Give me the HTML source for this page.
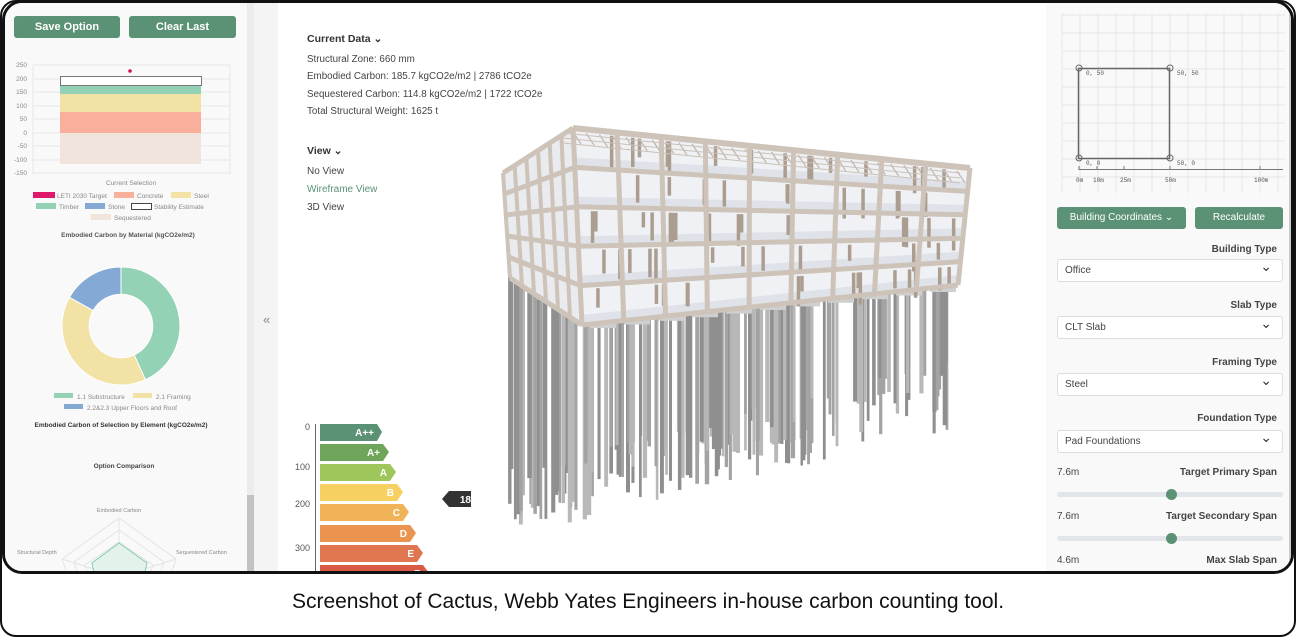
<!DOCTYPE html>
<html><head><meta charset="utf-8"><style>
*{margin:0;padding:0;box-sizing:border-box}
body{width:1296px;height:637px;background:#fff;position:relative;overflow:hidden;font-family:"Liberation Sans",sans-serif;color:#333}
.outer{position:absolute;left:0;top:0;width:1296px;height:637px;border:2px solid #111;border-radius:16px}
.shot{position:absolute;left:2px;top:0;width:1292px;height:574px;border:3px solid #111;border-radius:20px;overflow:hidden;background:#fff}
.a{position:absolute;white-space:nowrap}
.btn{position:absolute;background:#5b9174;color:#fff;border-radius:3px;font-size:11px;text-align:center;line-height:22px;font-weight:bold}
.sel{position:absolute;left:1052px;width:226px;height:23px;background:#fff;border:1px solid #ddd;border-radius:3px;font-size:10px;line-height:21px;padding-left:7px;color:#444}
.sel:after{content:"⌄";position:absolute;right:10px;top:-4px;font-size:14px;color:#333}
.lab{position:absolute;right:14px;font-size:10px;font-weight:bold;color:#444}
.cap{position:absolute;left:0;width:1296px;top:590px;text-align:center;font-size:21px;color:#111}
</style></head><body>
<div class="outer"></div>
<div class="shot">
 <div class="a" style="left:0;top:0;width:247px;height:574px;background:#f9f9f9"></div>
 <div class="a" style="left:242px;top:0;width:7px;height:574px;background:#ececec"></div>
 <div class="a" style="left:242px;top:492px;width:7px;height:82px;background:#c2c2c2"></div>
 <div class="a" style="left:249px;top:0;width:24px;height:574px;background:#f4f4f4"></div>
 <div class="a" style="left:258px;top:309px;font-size:13px;color:#888">«</div>
 <div class="a" style="left:1041px;top:0;width:251px;height:574px;background:#f9f9f9"></div>
 <div class="a" style="left:1284px;top:0;width:6px;height:574px;background:#ccc"></div>

 <div class="btn" style="left:9px;top:13px;width:106px;height:22px">Save Option</div>
 <div class="btn" style="left:124px;top:13px;width:107px;height:22px">Clear Last</div>

 <svg class="a" style="left:0;top:0" width="250" height="574">
  <g font-family="Liberation Sans" font-size="6.5" fill="#888" text-anchor="end">
   <text x="22" y="64">250</text><text x="22" y="78">200</text><text x="22" y="91">150</text><text x="22" y="105">100</text><text x="22" y="118">50</text><text x="22" y="132">0</text><text x="22" y="145">-50</text><text x="22" y="159">-100</text><text x="22" y="172">-150</text>
  </g>
  <g stroke="#e8e8e8"><line x1="28" x2="225" y1="62" y2="62"/><line x1="28" x2="225" y1="76" y2="76"/><line x1="28" x2="225" y1="89" y2="89"/><line x1="28" x2="225" y1="103" y2="103"/><line x1="28" x2="225" y1="116" y2="116"/><line x1="28" x2="225" y1="130" y2="130"/><line x1="28" x2="225" y1="143" y2="143"/><line x1="28" x2="225" y1="157" y2="157"/><line x1="28" x2="225" y1="170" y2="170"/><line x1="28" x2="28" y1="62" y2="172"/><line x1="225" x2="225" y1="62" y2="172"/></g>
  <rect x="55" y="83" width="141" height="8" fill="#94d2b6"/>
  <rect x="55" y="91" width="141" height="18" fill="#f3e2a5"/>
  <rect x="55" y="109" width="141" height="21" fill="#f8b09c"/>
  <rect x="55" y="130" width="141" height="31" fill="#f1e4dc"/>
  <rect x="55.5" y="73.5" width="141" height="9" fill="#fff" stroke="#777"/>
  <circle cx="125" cy="68" r="1.8" fill="#d0105f"/>
  <g font-family="Liberation Sans" font-size="6.5" fill="#888">
   <text x="126" y="182" text-anchor="middle">Current Selection</text>
   <rect x="28" y="189" width="22" height="6" fill="#e0186a"/><text x="52" y="195">LETI 2030 Target</text>
   <rect x="109" y="189" width="20" height="6" fill="#f8b09c"/><text x="132" y="195">Concrete</text>
   <rect x="166" y="189" width="20" height="6" fill="#f3e2a5"/><text x="189" y="195">Steel</text>
   <rect x="31" y="200" width="20" height="6" fill="#94d2b6"/><text x="54" y="206">Timber</text>
   <rect x="80" y="200" width="20" height="6" fill="#84a9d4"/><text x="103" y="206">Stone</text>
   <rect x="126.5" y="200.5" width="20" height="6" fill="#fff" stroke="#444"/><text x="149" y="206">Stability Estimate</text>
   <rect x="86" y="211" width="20" height="6" fill="#f1e4dc"/><text x="109" y="217">Sequestered</text>
  </g>
  <text x="123" y="234" font-family="Liberation Sans" font-size="6.5" font-weight="bold" fill="#555" text-anchor="middle">Embodied Carbon by Material (kgCO2e/m2)</text>
  <g transform="translate(116,323)">
   <path d="M0,-59 A59,59 0 0,1 24.4,53.7 L13.2,28.9 A31.8,31.8 0 0,0 0,-31.8Z" fill="#94d2b6" stroke="#fff"/>
   <path d="M24.4,53.7 A59,59 0 0,1 -51.5,-28.7 L-27.8,-15.5 A31.8,31.8 0 0,0 13.2,28.9Z" fill="#f3e2a5" stroke="#fff"/>
   <path d="M-51.5,-28.7 A59,59 0 0,1 0,-59 L0,-31.8 A31.8,31.8 0 0,0 -27.8,-15.5Z" fill="#84a9d4" stroke="#fff"/>
  </g>
  <g font-family="Liberation Sans" font-size="6.5" fill="#888">
   <rect x="49" y="390" width="19" height="5" fill="#94d2b6"/><text x="72" y="396">1.1 Substructure</text>
   <rect x="128" y="390" width="19" height="5" fill="#f3e2a5"/><text x="151" y="396">2.1 Framing</text>
   <rect x="59" y="401" width="19" height="5" fill="#84a9d4"/><text x="82" y="407">2.2&amp;2.3 Upper Floors and Roof</text>
  </g>
  <text x="116" y="424" font-family="Liberation Sans" font-size="6.5" font-weight="bold" fill="#333" text-anchor="middle">Embodied Carbon of Selection by Element (kgCO2e/m2)</text>
  <text x="119" y="465" font-family="Liberation Sans" font-size="6.5" font-weight="bold" fill="#444" text-anchor="middle">Option Comparison</text>
  <g font-family="Liberation Sans" font-size="5.5" fill="#888">
   <text x="114" y="509" text-anchor="middle">Embodied Carbon</text>
   <text x="12" y="551">Structural Depth</text>
   <text x="171" y="551">Sequestered Carbon</text>
  </g>
  <g fill="none" stroke="#e4e4e4">
   <polygon points="114,515 171,556 149,620 79,620 57,556"/>
   <polygon points="114,527 159,559 142,610 86,610 69,559"/>
   <polygon points="114,539 148,562 135,600 93,600 80,562"/>
   <line x1="114" y1="515" x2="114" y2="574"/><line x1="114" y1="574" x2="171" y2="556"/><line x1="114" y1="574" x2="57" y2="556"/>
  </g>
  <polygon points="114,540 142,560 135,590 93,590 87,560" fill="#e3f3ec" stroke="#86ccb0"/>
 </svg>

 <div class="a" style="left:302px;top:30px;font-size:10.5px;font-weight:bold;color:#333">Current Data ⌄</div>
 <div class="a" style="left:302px;top:48px;font-size:9.8px;color:#444;line-height:17.4px">Structural Zone: 660 mm<br>Embodied Carbon: 185.7 kgCO2e/m2 | 2786 tCO2e<br>Sequestered Carbon: 114.8 kgCO2e/m2 | 1722 tCO2e<br>Total Structural Weight: 1625 t</div>
 <div class="a" style="left:302px;top:142px;font-size:10.5px;font-weight:bold;color:#333">View ⌄</div>
 <div class="a" style="left:302px;top:160px;font-size:10px;color:#444;line-height:18px">No View<br><span style="color:#5b9174">Wireframe View</span><br>3D View</div>

 <svg class="a" style="left:0;top:0" width="1040" height="574">
  <g font-family="Liberation Sans" font-size="9" fill="#555" text-anchor="end">
   <text x="305" y="427">0</text><text x="305" y="467">100</text><text x="305" y="504">200</text><text x="305" y="548">300</text>
  </g>
  <line x1="310.5" y1="421" x2="310.5" y2="574" stroke="#666"/>
  <g font-family="Liberation Sans" font-size="10" font-weight="bold" fill="#fff" text-anchor="end">
   <polygon points="315,421 372,421 377,429 372,438 315,438" fill="#5b9174"/><text x="369" y="433">A++</text>
   <polygon points="315,441 378,441 384,449 378,458 315,458" fill="#6ea55a"/><text x="375" y="453">A+</text>
   <polygon points="315,461 385,461 391,469 385,478 315,478" fill="#9fc65a"/><text x="382" y="473">A</text>
   <polygon points="315,481 392,481 398,489 392,498 315,498" fill="#f6d162"/><text x="389" y="493">B</text>
   <polygon points="315,501 398,501 404,509 398,518 315,518" fill="#f1b358"/><text x="395" y="513">C</text>
   <polygon points="315,522 405,522 411,530 405,539 315,539" fill="#ea9450"/><text x="402" y="534">D</text>
   <polygon points="315,542 412,542 418,550 412,559 315,559" fill="#e07650"/><text x="409" y="554">E</text>
   <polygon points="315,562 418,562 424,570 418,579 315,579" fill="#d95a45"/><text x="415" y="574">F</text>
   <polygon points="444,488 466,488 466,504 444,504 437,496" fill="#333"/><text x="466" y="500" text-anchor="end">18</text>
  </g>
  <g id="bld"></g>
 </svg>

 <svg class="a" style="left:0;top:0" width="1292" height="574">
  <g stroke="#e6e6e6" id="grid"></g>
  <rect x="1073.5" y="65.5" width="91" height="90" fill="none" stroke="#666" stroke-width="1.5"/>
  <g fill="none" stroke="#666"><circle cx="1074" cy="65" r="3"/><circle cx="1165" cy="65" r="3"/><circle cx="1074" cy="155" r="3"/><circle cx="1165" cy="155" r="3"/></g>
  <line x1="1074" y1="166.5" x2="1278" y2="166.5" stroke="#777"/>
  <g stroke="#777"><line x1="1074" x2="1074" y1="163" y2="167"/><line x1="1092" x2="1092" y1="163" y2="167"/><line x1="1119" x2="1119" y1="163" y2="167"/><line x1="1165" x2="1165" y1="163" y2="167"/><line x1="1255" x2="1255" y1="163" y2="167"/></g>
  <g font-family="Liberation Mono" font-size="6" fill="#555">
   <text x="1081" y="72">0, 50</text><text x="1172" y="72">50, 50</text><text x="1081" y="162">0, 0</text><text x="1172" y="162">50, 0</text>
   <text x="1071" y="179">0m</text><text x="1088" y="179">10m</text><text x="1115" y="179">25m</text><text x="1160" y="179">50m</text><text x="1249" y="179">100m</text>
  </g>
 </svg>
 <div class="btn" style="left:1052px;top:204px;width:129px;height:22px;font-weight:normal;font-size:10px">Building Coordinates ⌄</div>
 <div class="btn" style="left:1190px;top:204px;width:88px;height:22px;font-weight:normal;font-size:10px">Recalculate</div>
 <div class="lab" style="top:241px">Building Type</div><div class="sel" style="top:256px">Office</div>
 <div class="lab" style="top:297px">Slab Type</div><div class="sel" style="top:313px">CLT Slab</div>
 <div class="lab" style="top:354px">Framing Type</div><div class="sel" style="top:370px">Steel</div>
 <div class="lab" style="top:410px">Foundation Type</div><div class="sel" style="top:427px">Pad Foundations</div>
 <div class="a" style="left:1052px;top:464px;font-size:10px;color:#444">7.6m</div><div class="lab" style="top:464px">Target Primary Span</div>
 <div class="a" style="left:1052px;top:489px;width:226px;height:5px;border-radius:3px;background:#e2e6ea"></div><div class="a" style="left:1161px;top:486px;width:11px;height:11px;border-radius:50%;background:#5b9174"></div>
 <div class="a" style="left:1052px;top:508px;font-size:10px;color:#444">7.6m</div><div class="lab" style="top:508px">Target Secondary Span</div>
 <div class="a" style="left:1052px;top:533px;width:226px;height:5px;border-radius:3px;background:#e2e6ea"></div><div class="a" style="left:1161px;top:530px;width:11px;height:11px;border-radius:50%;background:#5b9174"></div>
 <div class="a" style="left:1052px;top:552px;font-size:10px;color:#444">4.6m</div><div class="lab" style="top:552px">Max Slab Span</div>
</div>
<div class="cap">Screenshot of Cactus, Webb Yates Engineers in-house carbon counting tool.</div>
<script>
(function(){
var NS="http://www.w3.org/2000/svg";
function el(p,t,a){var e=document.createElementNS(NS,t);for(var k in a)e.setAttribute(k,a[k]);p.appendChild(e);return e;}
var g=document.getElementById('grid');
for(var x=1057;x<=1280;x+=18)el(g,'line',{x1:x,x2:x,y1:10,y2:190});
for(var y=12;y<=190;y+=18)el(g,'line',{x1:1057,x2:1280,y1:y,y2:y});
var b=document.getElementById('bld');
var s=7;function r(){s=(s*9301+49297)%233280;return s/233280;}
function slab(x){return x<577?275+(x-505)/72*47:322-(x-577)/376*40;}
for(var i=0;i<170;i++){var u=r();var x=503+u*447;var top=slab(x)-12;var bot=535-u*110-r()*70;if(bot<top+60)bot=top+60;var w=2.5+r()*2;
 var c=['#8f8f8f','#a3a3a3','#b8b8b8'][Math.floor(r()*3)];
 el(b,'rect',{x:x.toFixed(1),y:top.toFixed(1),width:w.toFixed(1),height:(bot-top).toFixed(1),fill:c});}
for(var i=0;i<11;i++){var x=585+i*34;var y=slab(x+10)-2;el(b,'rect',{x:x,y:y,width:26,height:7,fill:'#cfcfcf'});}
for(var i=0;i<6;i++){var x=508+i*12;var y=slab(x)-2;el(b,'rect',{x:x,y:y,width:14,height:6,fill:'#cfcfcf'});}
function L(a,c,t){return [a[0]+(c[0]-a[0])*t,a[1]+(c[1]-a[1])*t];}
var TL=[568,125],TR=[965,165],BR=[953,282],BL=[577,322],STL=[498,170],SBL=[505,275];
el(b,'polygon',{points:[STL,TL,BL,SBL].join(' '),fill:'#e9ebee'});
el(b,'polygon',{points:[TL,TR,BR,BL].join(' '),fill:'#eff1f4'});
for(var f=1;f<=5;f++){var t=f/5;var a=L(TL,BL,t),c=L(TR,BR,t);el(b,'line',{x1:a[0],y1:a[1]-6,x2:c[0],y2:c[1]-6,stroke:'#dfe3e9','stroke-width':8});}
for(var i=0;i<70;i++){var x=580+r()*370;var f=Math.floor(r()*5);var t=f/5;var yt=L(TL,BL,t)[1]+(L(TR,BR,t)[1]-L(TL,BL,t)[1])*((x-568)/397)+4;
 el(b,'rect',{x:x.toFixed(1),y:yt.toFixed(1),width:3.5,height:(15+r()*18).toFixed(1),fill:'#ab9d90'});}
for(var i=0;i<30;i++){var t=i/30;var a=L(TL,TR,t);el(b,'line',{x1:a[0],y1:a[1]+4,x2:a[0]+8,y2:a[1]+16,stroke:'#bfb5ab','stroke-width':1.2});}
for(var k=1;k<=3;k++){el(b,'line',{x1:TL[0]-10,y1:TL[1]+k*5,x2:TR[0]-10,y2:TR[1]+k*5,stroke:'#cbc1b7','stroke-width':1});}
var col='#cdc3b9';
for(var f=0;f<=5;f++){var t=f/5;var a=L(TL,BL,t),c=L(TR,BR,t),d=L(STL,SBL,t);
 el(b,'line',{x1:a[0],y1:a[1],x2:c[0],y2:c[1],stroke:col,'stroke-width':f==0?6:5});
 el(b,'line',{x1:d[0],y1:d[1],x2:a[0],y2:a[1],stroke:col,'stroke-width':5});}
for(var i=0;i<=9;i++){var t=i/9;var a=L(TL,TR,t),c=L(BL,BR,t);el(b,'line',{x1:a[0],y1:a[1],x2:c[0],y2:c[1],stroke:col,'stroke-width':5});}
for(var i=0;i<=6;i++){var t=i/6;var a=L(STL,TL,t),c=L(SBL,BL,t);el(b,'line',{x1:a[0],y1:a[1],x2:c[0],y2:c[1],stroke:col,'stroke-width':4});}
})();
</script>
</body></html>
